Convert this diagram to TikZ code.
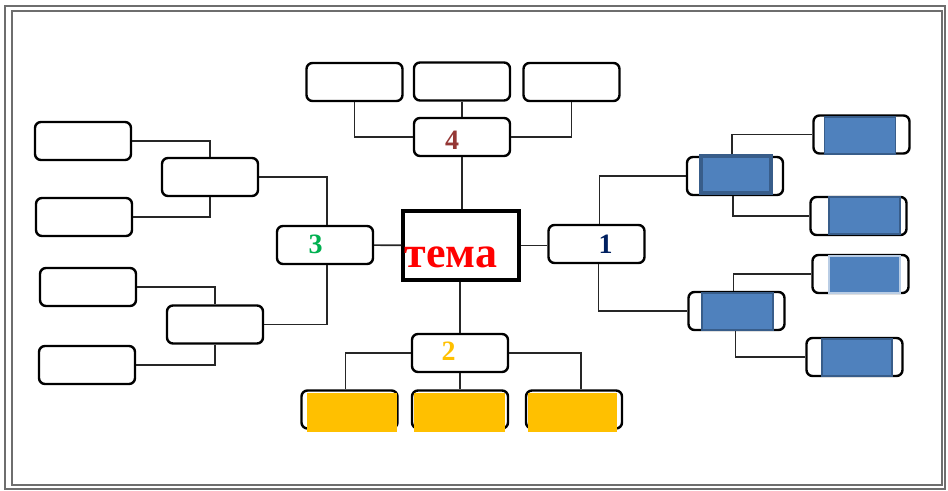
\documentclass[tikz,border=0pt]{standalone}
\usepackage{fontspec}
\setmainfont{Liberation Serif}
\definecolor{temaRed}{RGB}{255,0,0}
\definecolor{numBrown}{RGB}{149,55,53}
\definecolor{numGreen}{RGB}{0,176,80}
\definecolor{numOrange}{RGB}{255,192,0}
\definecolor{numNavy}{RGB}{0,32,96}
\definecolor{boxBlue}{RGB}{79,129,189}
\definecolor{boxBlueDark}{RGB}{56,93,138}
\definecolor{boxBlueLight}{RGB}{185,205,229}
\definecolor{frameGray}{RGB}{110,110,110}

\begin{document}
\begin{tikzpicture}[x = 0.5pt, y = -0.5pt]
\tikzstyle{boxStyle}=[draw, rounded corners = 3pt, line width = 1.2pt, minimum width = 48pt, minimum height = 19pt, inner sep = 0pt]
\tikzstyle{temaStyle}=[draw, line width = 1.7pt, minimum width = 58pt, minimum height = 34.5pt, inner sep = 0pt]
\tikzstyle{yellowStyle}=[fill = numOrange, minimum width = 45pt, minimum height = 19.5pt, inner sep = 0pt]
\tikzstyle{blueStyle}=[fill = boxBlue, draw = boxBlueDark, line width = 0.8pt, minimum width = 35.5pt, minimum height = 18.5pt, inner sep = 0pt]
\tikzstyle{linkStyle}=[line width = 0.8pt, black!85]
\tikzstyle{numStyle}=[font = \fontsize{14}{14}\selectfont\bfseries, inner sep = 0pt]
\tikzstyle{frameStyle}=[draw = frameGray, line width = 1pt]
\useasboundingbox (0,0) rectangle (948,491);
% frame
\draw[frameStyle] (5,6) rectangle (945,489);
\draw[frameStyle] (12,11) rectangle (942,485);
% centre
\node[temaStyle] (tema) at (461,245.5) {};
\node[boxStyle] (n1) at (596.5,244) {};
\node[boxStyle] (n2) at (460,353) {};
\node[boxStyle] (n3) at (325,245) {};
\node[boxStyle] (n4) at (462,137) {};
% top
\node[boxStyle] (t1) at (354.5,82) {};
\node[boxStyle] (t2) at (462,81.5) {};
\node[boxStyle] (t3) at (571.5,82) {};
% left
\node[boxStyle] (l1) at (210,177) {};
\node[boxStyle] (l2) at (215,324.5) {};
\node[boxStyle] (ll1) at (83,141) {};
\node[boxStyle] (ll2) at (84,217) {};
\node[boxStyle] (ll3) at (88,287) {};
\node[boxStyle] (ll4) at (87,365) {};
% bottom
\node[boxStyle] (b1) at (349.5,409.5) {};
\node[boxStyle] (b2) at (460,409.5) {};
\node[boxStyle] (b3) at (574,409.5) {};
% right
\node[boxStyle] (r1) at (735,176) {};
\node[boxStyle] (r2) at (736.5,311) {};
\node[boxStyle] (rr1) at (861.5,134.5) {};
\node[boxStyle] (rr2) at (858.5,216) {};
\node[boxStyle] (rr3) at (860.5,274) {};
\node[boxStyle] (rr4) at (854.5,357) {};
% links
\draw[linkStyle] (n4.south) -- (n4.south |- tema.north);
\draw[linkStyle] (n2.north) -- (n2.north |- tema.south);
\draw[linkStyle] (tema) -- (n3);
\draw[linkStyle] (tema.east) -- (tema.east -| n1.west);
\draw[linkStyle] (t2) -- (n4);
\draw[linkStyle] (t1.south) |- (n4.west);
\draw[linkStyle] (t3.south) |- (n4.east);
\draw[linkStyle] (n2) -- (b2);
\draw[linkStyle] (n2.west) -| ([xshift = -2pt]b1.north);
\draw[linkStyle] (n2.east) -| ([xshift = 3.5pt]b3.north);
\draw[linkStyle] ([xshift = 1pt]n3.north) |- (l1.east);
\draw[linkStyle] ([xshift = 1pt]n3.south) |- (l2.east);
\draw[linkStyle] (l1.north) |- (ll1.east);
\draw[linkStyle] (l1.south) |- (ll2.east);
\draw[linkStyle] (l2.north) |- (ll3.east);
\draw[linkStyle] (l2.south) |- (ll4.east);
\draw[linkStyle] ([xshift = 1.5pt]n1.north) |- (r1.west);
\draw[linkStyle] ([xshift = 1pt]n1.south) |- (r2.west);
\draw[linkStyle] ([xshift = -1.5pt]r1.north) |- (rr1.west);
\draw[linkStyle] ([xshift = -1pt]r1.south) |- (rr2.west);
\draw[linkStyle] ([xshift = -1.5pt]r2.north) |- (rr3.west);
\draw[linkStyle] ([xshift = -0.5pt]r2.south) |- (rr4.west);
% fills
\node[yellowStyle] (yb1) at (352,413) {};
\node[yellowStyle, minimum width = 45.5pt] (yb2) at (459.5,412.5) {};
\node[yellowStyle, minimum width = 44.5pt] (yb3) at (572.5,412.5) {};
\node[blueStyle, line width = 1.6pt, minimum width = 35pt, minimum height = 18.5pt] (fr1) at (736,174.5) {};
\node[blueStyle] (fr2) at (737.5,311.5) {};
\node[blueStyle] (frr1) at (860,135.5) {};
\node[blueStyle] (frr2) at (864.5,215.5) {};
\node[blueStyle, draw = boxBlueLight] (frr3) at (864.5,274.5) {};
\node[blueStyle, minimum width = 35pt] (frr4) at (857,357.5) {};
% texts
\node[font = \fontsize{22}{22}\selectfont\bfseries, text = temaRed, inner sep = 0pt] (temaText) at (451,257) {тема};
\node[numStyle, text = numNavy] (num1) at (605.5,244.5) {1};
\node[numStyle, text = numOrange] (num2) at (448.5,351) {2};
\node[numStyle, text = numGreen] (num3) at (315.5,244) {3};
\node[numStyle, text = numBrown] (num4) at (452,140) {4};
\end{tikzpicture}
\end{document}
